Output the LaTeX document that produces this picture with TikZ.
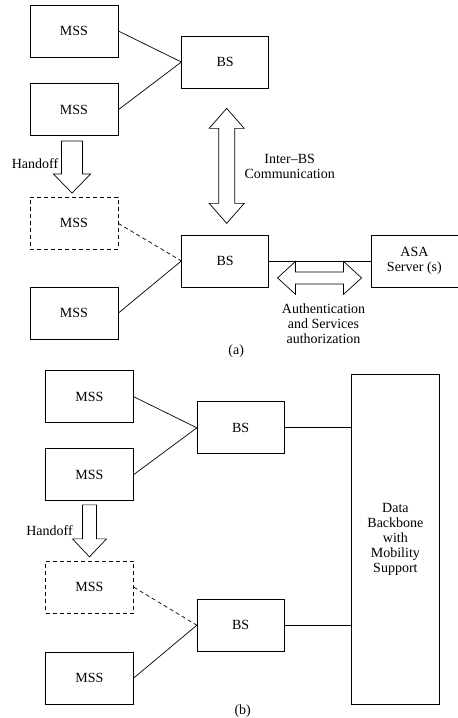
\documentclass[tikz,border=0pt]{standalone}
\usepackage{fontspec}
\setmainfont{Liberation Serif}
\usetikzlibrary{positioning,calc}

\begin{document}
\begin{tikzpicture}[
    x=1pt, y=1pt,
    node distance=26pt and 63pt,
    unit/.style={rectangle, draw, line width=0.7pt, minimum width=88pt, minimum height=52pt, inner sep=2pt, align=center, font=\fontsize{14pt}{15pt}\selectfont},
    ghost/.style={unit, dash pattern=on 4pt off 3pt},
    base/.style={unit, minimum width=87pt},
    txt/.style={align=center, inner sep=0pt, font=\fontsize{14pt}{15pt}\selectfont},
    blockarrow/.style={draw, line width=0.7pt, line join=miter},
    link/.style={line width=0.7pt}
]
\useasboundingbox (0,0) rectangle (458,-718);

% (a) MSS and BS units
\node[unit] (mssA1) at (74,-31) {MSS};
\node[unit, below=of mssA1] (mssA2) {MSS};
\node[base, right=of mssA1, yshift=-31pt] (bsA1) {BS};
\node[ghost, below=61pt of mssA2] (mssA3) {MSS};
\node[unit, below=37pt of mssA3] (mssA4) {MSS};
\node[base, right=of mssA3, yshift=-37.5pt] (bsA2) {BS};
\node[unit, minimum width=87pt, right=101.5pt of bsA2] (asa) {ASA\\Server (s)};

% (a) block arrows and labels
\coordinate (hoA) at ($(mssA2.south)+(-2pt,-5pt)$);
\draw[blockarrow] (hoA) ++(-10.5,0) -- ++(0,-33) -- ++(-8,0) -- ++(18.5,-19)
    -- ++(18.5,19) -- ++(-8,0) -- ++(0,33) -- cycle;
\node[txt] (hoAtext) at ($(hoA)+(-37pt,-23pt)$) {Handoff};
\coordinate (interbs) at ($(bsA1.south)+(1.5pt,-20pt)$);
\draw[blockarrow] (interbs) -- ++(-17.5,-20) -- ++(9.5,0) -- ++(0,-75) -- ++(-9.5,0)
    -- ++(17.5,-20) -- ++(17.5,20) -- ++(-9.5,0) -- ++(0,75) -- ++(9.5,0) -- cycle;
\node[txt] (interlabel) at ($(interbs)+(63pt,-58pt)$) {Inter–BS\\Communication};
\coordinate (authsvc) at ($(bsA2.east)+(8.5pt,-17pt)$);
\draw[blockarrow] (authsvc) -- ++(18,16.5) -- ++(0,-10.5) -- ++(48,0) -- ++(0,10.5)
    -- ++(18,-16.5) -- ++(-18,-16.5) -- ++(0,10.5) -- ++(-48,0) -- ++(0,-10.5) -- cycle;
\node[txt] (authlabel) at ($(authsvc)+(46pt,-45.5pt)$) {Authentication\\and Services\\authorization};
\node[txt] (capA) at ($(bsA2.south)+(11pt,-64pt)$) {(a)};

% (a) connectors
\draw[link] (mssA1.east) -- (bsA1.west);
\draw[link] (mssA2.east) -- (bsA1.west);
\draw[link, dash pattern=on 4pt off 3pt] (mssA3.east) -- (bsA2.west);
\draw[link] (mssA4.east) -- (bsA2.west);
\draw[link] (bsA2.east) -- (asa.west);

% (b) MSS and BS units
\node[unit, below=31pt of mssA4, xshift=15.5pt] (mssB1) {MSS};
\node[unit, below=25pt of mssB1] (mssB2) {MSS};
\node[base, right=of mssB1, yshift=-31pt] (bsB1) {BS};
\node[ghost, below=60pt of mssB2] (mssB3) {MSS};
\node[unit, below=38pt of mssB3] (mssB4) {MSS};
\node[base, right=of mssB3, yshift=-38pt] (bsB2) {BS};
\node[unit, minimum height=330pt, right=66.5pt of bsB1, yshift=-112pt] (backbone) {Data\\Backbone\\with\\Mobility\\Support};

% (b) handoff arrow and labels
\coordinate (hoB) at ($(mssB2.south)+(0,-4pt)$);
\draw[blockarrow] (hoB) ++(-7,0) -- ++(0,-34) -- ++(-10,0) -- ++(17,-18)
    -- ++(17,18) -- ++(-10,0) -- ++(0,34) -- cycle;
\node[txt] (hoBtext) at ($(hoB)+(-40pt,-26pt)$) {Handoff};
\node[txt] (capB) at ($(bsB2.south)+(2pt,-60pt)$) {(b)};

% (b) connectors
\draw[link] (mssB1.east) -- (bsB1.west);
\draw[link] (mssB2.east) -- (bsB1.west);
\draw[link, dash pattern=on 4pt off 3pt] (mssB3.east) -- (bsB2.west);
\draw[link] (mssB4.east) -- (bsB2.west);
\draw[link] (bsB1.east) -- (bsB1.east -| backbone.west);
\draw[link] (bsB2.east) -- (bsB2.east -| backbone.west);
\end{tikzpicture}
\end{document}
